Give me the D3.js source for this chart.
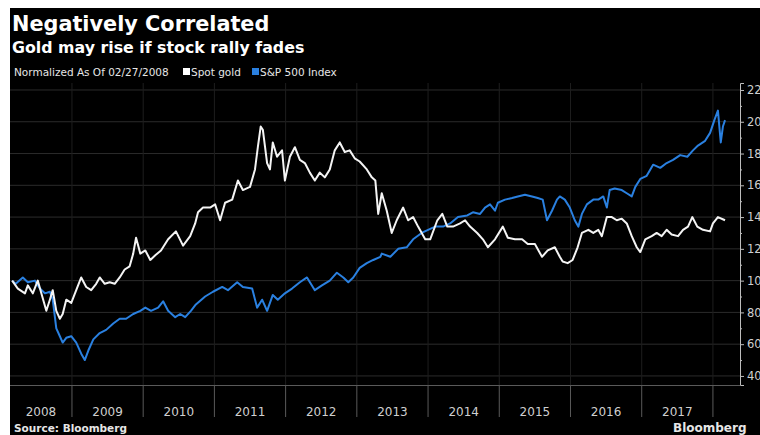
<!DOCTYPE html>
<html>
<head>
<meta charset="utf-8">
<script src="https://cdn.jsdelivr.net/npm/d3@7"></script>
<style>
  html, body { margin: 0; padding: 0; background: #fff; }
  svg { display: block; }
</style>
</head>
<body>
<div id="chart"></div>
<script>
// dates are decimal years, values normalized to 100 on 02/27/2008
const goldDates = [2008.16, 2008.24, 2008.34, 2008.38, 2008.45, 2008.52, 2008.57, 2008.64, 2008.69, 2008.73,
    2008.78, 2008.83, 2008.87, 2008.92, 2008.99, 2009.06, 2009.13, 2009.20, 2009.27, 2009.34,
    2009.39, 2009.46, 2009.53, 2009.60, 2009.67, 2009.74, 2009.81, 2009.86, 2009.90, 2009.96,
    2010.03, 2010.10, 2010.17, 2010.25, 2010.35, 2010.46, 2010.56, 2010.66, 2010.73, 2010.77,
    2010.84, 2010.94, 2011.01, 2011.08, 2011.15, 2011.25, 2011.33, 2011.40, 2011.50, 2011.57,
    2011.61, 2011.65, 2011.68, 2011.74, 2011.78, 2011.82, 2011.88, 2011.95, 2011.99, 2012.06,
    2012.13, 2012.20, 2012.27, 2012.34, 2012.41, 2012.48, 2012.55, 2012.62, 2012.69, 2012.76,
    2012.83, 2012.90, 2012.97, 2013.04, 2013.14, 2013.21, 2013.26, 2013.30, 2013.35, 2013.42,
    2013.49, 2013.56, 2013.65, 2013.72, 2013.79, 2013.86, 2013.96, 2014.03, 2014.13, 2014.20,
    2014.27, 2014.35, 2014.45, 2014.52, 2014.59, 2014.69, 2014.77, 2014.84, 2014.94, 2015.05,
    2015.12, 2015.22, 2015.32, 2015.40, 2015.50, 2015.60, 2015.68, 2015.78, 2015.85, 2015.89,
    2015.96, 2016.03, 2016.10, 2016.16, 2016.25, 2016.32, 2016.39, 2016.44, 2016.51, 2016.58,
    2016.65, 2016.72, 2016.79, 2016.86, 2016.93, 2016.98, 2017.05, 2017.14, 2017.21, 2017.28,
    2017.35, 2017.42, 2017.51, 2017.58, 2017.65, 2017.71, 2017.78, 2017.86, 2017.96, 2018.00,
    2018.07, 2018.17]
const goldValues = [100, 95, 92, 97, 92, 100, 92, 81, 88, 94,
    81, 76, 79, 88, 86, 94, 102, 96, 94, 98,
    102, 98, 99, 98, 102, 107, 109, 117, 127, 117,
    119, 113, 116, 119, 126, 131, 122, 128, 136, 143,
    146, 146, 148, 138, 149, 151, 163, 157, 159, 170,
    184, 197, 195, 174, 170, 187, 178, 182, 163, 178,
    184, 176, 174, 168, 163, 168, 165, 170, 182, 187,
    181, 182, 177, 175, 170, 165, 163, 142, 155, 144,
    130, 138, 146, 138, 140, 134, 126, 126, 138, 142,
    134, 134, 136, 138, 134, 130, 126, 121, 126, 134,
    127, 126, 126, 123, 123, 115, 119, 121, 115, 112,
    111, 113, 121, 130, 132, 130, 132, 128, 140, 140,
    138, 139, 136, 128, 121, 118, 126, 128, 130, 128,
    132, 129, 128, 132, 134, 140, 134, 132, 131, 136,
    140, 138]

const spxDates = [2008.16, 2008.21, 2008.31, 2008.38, 2008.48, 2008.55, 2008.62, 2008.69, 2008.73, 2008.78,
    2008.83, 2008.87, 2008.92, 2008.99, 2009.06, 2009.13, 2009.18, 2009.23, 2009.30, 2009.39,
    2009.48, 2009.58, 2009.67, 2009.76, 2009.86, 2009.96, 2010.03, 2010.11, 2010.21, 2010.28,
    2010.35, 2010.45, 2010.52, 2010.59, 2010.67, 2010.74, 2010.87, 2010.98, 2011.11, 2011.19,
    2011.32, 2011.40, 2011.53, 2011.60, 2011.67, 2011.74, 2011.82, 2011.89, 2011.99, 2012.09,
    2012.20, 2012.30, 2012.41, 2012.51, 2012.62, 2012.72, 2012.81, 2012.88, 2012.95, 2013.04,
    2013.14, 2013.23, 2013.33, 2013.35, 2013.47, 2013.58, 2013.70, 2013.79, 2013.91, 2014.00,
    2014.10, 2014.21, 2014.31, 2014.42, 2014.55, 2014.63, 2014.73, 2014.80, 2014.87, 2014.94,
    2014.98, 2015.08, 2015.18, 2015.26, 2015.36, 2015.46, 2015.54, 2015.61, 2015.67, 2015.74,
    2015.81, 2015.85, 2015.92, 2015.99, 2016.06, 2016.11, 2016.16, 2016.23, 2016.32, 2016.39,
    2016.46, 2016.51, 2016.55, 2016.62, 2016.72, 2016.79, 2016.86, 2016.91, 2016.98, 2017.07,
    2017.16, 2017.26, 2017.35, 2017.44, 2017.54, 2017.64, 2017.72, 2017.79, 2017.89, 2017.96,
    2018.02, 2018.07, 2018.11, 2018.14, 2018.17]
const spxValues = [100, 98, 102, 99, 100, 95, 92, 93, 88, 70,
    65, 61, 64, 65, 61, 54, 50, 56, 63, 67,
    69, 73, 76, 76, 79, 81, 83, 81, 83, 87,
    81, 77, 79, 77, 81, 85, 90, 93, 96, 94,
    99, 96, 95, 83, 88, 81, 91, 88, 92, 95,
    99, 102, 94, 97, 100, 105, 102, 99, 102, 108,
    111, 113, 115, 117, 115, 120, 121, 126, 130, 132,
    134, 134, 136, 140, 141, 143, 142, 146, 148, 144,
    149, 151, 152, 153, 154, 153, 152, 151, 138, 144,
    151, 153, 151, 146, 138, 134, 142, 148, 151, 151,
    153, 146, 157, 158, 157, 155, 153, 159, 164, 166,
    173, 171, 174, 176, 179, 178, 182, 185, 188, 193,
    201, 207, 187, 197, 201]

const years = [2008, 2009, 2010, 2011, 2012, 2013, 2014, 2015, 2016, 2017]
const yTicks = [40, 60, 80, 100, 120, 140, 160, 180, 200, 220]
const minorTicks = [50, 70, 90, 110, 130, 150, 170, 190, 210]

const W = 760, H = 435
const plot = { left: 10, right: 740, top: 83, bottom: 385 }

//helper for the svg
const createsvg = (g, width, height) => g
    .append("svg")
    .attr("viewBox", [0, 0, width, height])
    .attr("width", width)
    .attr("height", height)

const svg = createsvg(d3.select("#chart"), W, H)
const font = "'DejaVu Sans', Verdana, sans-serif"

//background (screenshot has a white strip on the top and left)
svg.append("rect").attr("x", 0).attr("y", 0).attr("width", W).attr("height", H).attr("fill", "#fff")
svg.append("rect").attr("x", 10).attr("y", 8).attr("width", W - 10).attr("height", H - 8).attr("fill", "#000")

//1. scales
const xScale = d3.scaleLinear()
    .domain([2008.13, 2018.38])
    .range([plot.left, plot.right])
const yScale = d3.scaleLinear()
    .domain([34.3, 224.4])
    .range([plot.bottom, plot.top])

//2. grid
svg.append("g")
    .selectAll("line")
    .data(yTicks)
    .join("line")
    .attr("x1", plot.left).attr("x2", plot.right)
    .attr("y1", d => yScale(d)).attr("y2", d => yScale(d))
    .attr("stroke", "#2b2b2b").attr("stroke-width", 1)

const yearBounds = years.slice(1).concat([2018])
svg.append("g")
    .selectAll("line")
    .data(yearBounds)
    .join("line")
    .attr("x1", d => xScale(d)).attr("x2", d => xScale(d))
    .attr("y1", plot.top).attr("y2", plot.bottom)
    .attr("stroke", "#1e1e1e").attr("stroke-width", 1)

//3. right axis (labels run off the right edge like the original crop)
const yAxis = svg.append("g")
    .attr("transform", `translate(${plot.right},0)`)
    .call(d3.axisRight(yScale).tickValues(yTicks).tickSize(4).tickPadding(3))
yAxis.select(".domain").attr("stroke", "#bdbdbd")
yAxis.selectAll(".tick line").attr("stroke", "#bdbdbd")
yAxis.selectAll(".tick text")
    .attr("fill", "#cfcfcf")
    .attr("font-family", font)
    .attr("font-size", "11.5px")
svg.append("g")
    .attr("transform", `translate(${plot.right},0)`)
    .call(d3.axisRight(yScale).tickValues(minorTicks).tickSize(2).tickFormat(""))
    .call(g => g.select(".domain").remove())
    .selectAll(".tick line").attr("stroke", "#bdbdbd")

//4. bottom year band
svg.append("line")
    .attr("x1", plot.left).attr("x2", plot.right)
    .attr("y1", plot.bottom + 0.5).attr("y2", plot.bottom + 0.5)
    .attr("stroke", "#5a5a5a")
svg.append("g")
    .selectAll("line")
    .data(yearBounds)
    .join("line")
    .attr("x1", d => xScale(d)).attr("x2", d => xScale(d))
    .attr("y1", plot.bottom).attr("y2", plot.bottom + 32)
    .attr("stroke", "#5a5a5a")
svg.append("g")
    .selectAll("text")
    .data(years)
    .join("text")
    .attr("x", d => (Math.max(xScale(d), plot.left) + xScale(d + 1)) / 2)
    .attr("y", plot.bottom + 31)
    .attr("text-anchor", "middle")
    .attr("fill", "#cfcfcf")
    .attr("font-family", font)
    .attr("font-size", "12px")
    .text(d => d)

//5. lines
const drawLine = (dates, values, color) => {
    const pts = dates.map((d, i) => [d, values[i]])
    const line = d3.line()
        .x(d => xScale(d[0]))
        .y(d => yScale(d[1]))
    svg.append("path")
        .datum(pts)
        .attr("fill", "none")
        .attr("stroke", color)
        .attr("stroke-width", 2)
        .attr("stroke-linejoin", "round")
        .attr("d", line)
}
drawLine(spxDates, spxValues, "#2a80e0")
drawLine(goldDates, goldValues, "#f4f4f4")

//6. titles and legend
svg.append("text")
    .attr("x", 12).attr("y", 31)
    .attr("fill", "#fff")
    .attr("font-family", font).attr("font-weight", "bold")
    .attr("font-size", "20.8px")
    .text("Negatively Correlated")
svg.append("text")
    .attr("x", 12).attr("y", 53)
    .attr("fill", "#fff")
    .attr("font-family", font).attr("font-weight", "bold")
    .attr("font-size", "15.8px")
    .text("Gold may rise if stock rally fades")

const legend = svg.append("g").attr("font-family", font).attr("font-size", "10.5px").attr("fill", "#e6e6e6")
legend.append("text").attr("x", 14).attr("y", 76).text("Normalized As Of 02/27/2008")
legend.append("rect").attr("x", 183).attr("y", 68).attr("width", 7).attr("height", 7).attr("fill", "#fff")
legend.append("text").attr("x", 191).attr("y", 76).text("Spot gold")
legend.append("rect").attr("x", 252).attr("y", 68).attr("width", 7).attr("height", 7).attr("fill", "#2a80e0")
legend.append("text").attr("x", 260).attr("y", 76).text("S&P 500 Index")

//7. footer
svg.append("text")
    .attr("x", 14).attr("y", 432)
    .attr("fill", "#e6e6e6")
    .attr("font-family", font).attr("font-weight", "bold")
    .attr("font-size", "10.5px")
    .text("Source: Bloomberg")
svg.append("text")
    .attr("x", 673).attr("y", 432)
    .attr("fill", "#e6e6e6")
    .attr("font-family", font).attr("font-weight", "bold")
    .attr("font-size", "12px")
    .text("Bloomberg")
</script>
</body>
</html>
